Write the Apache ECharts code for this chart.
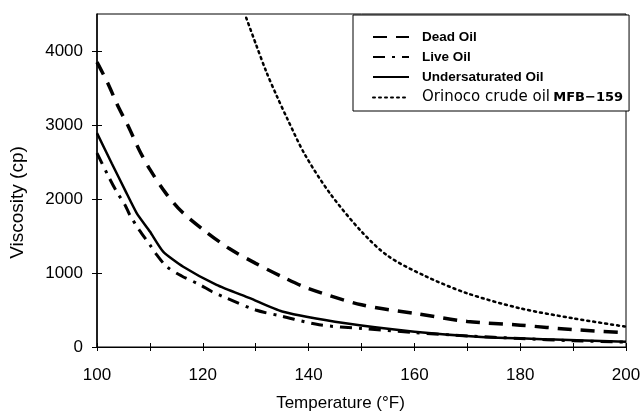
<!DOCTYPE html>
<html>
<head>
<meta charset="utf-8">
<script src="https://cdn.jsdelivr.net/npm/echarts@6/dist/echarts.min.js"></script>
<style>
  html, body { margin: 0; padding: 0; background: #fff; }
  #chart { width: 641px; height: 414px; }
</style>
</head>
<body>
<div id="chart"></div>
<script>
// values
const seriesNames = ['Dead Oil', 'Live Oil', 'Undersaturated Oil', 'Orinoco crude oil MFB-159'];

const deadTemp = [100, 102, 104, 106, 108, 110, 113, 116, 120, 125, 130, 135, 140, 150, 160, 170, 180, 190, 200];
const deadVisc = [3850, 3570, 3250, 2970, 2660, 2400, 2080, 1830, 1590, 1330, 1130, 950, 790, 570, 455, 345, 295, 235, 195];

const liveTemp = [100, 102, 103.7, 105.3, 106.2, 108, 110, 111.3, 113.2, 116, 119.5, 121.7, 124.5, 130, 135, 142, 150, 160, 170, 180, 190, 200];
const liveVisc = [2620, 2330, 2100, 1920, 1785, 1580, 1380, 1245, 1085, 960, 840, 750, 660, 500, 415, 300, 250, 195, 150, 115, 85, 65];

const underTemp = [100, 102.8, 105.3, 107.5, 110, 112.5, 116.3, 122.6, 128.9, 135, 147, 160, 172, 185, 200];
const underVisc = [2890, 2480, 2120, 1810, 1560, 1290, 1085, 840, 660, 480, 320, 207, 140, 105, 70];

const orinocoTemp = [128.2, 130, 132, 134, 136, 139.3, 144, 150, 155, 162, 170, 180, 190, 200];
const orinocoVisc = [4450, 4100, 3720, 3390, 3080, 2600, 2080, 1560, 1230, 960, 725, 523, 388, 274];

const yTicks = [0, 1000, 2000, 3000, 4000];

function pairs(xs, ys) {
  return xs.map((x, i) => [x, ys[i]]);
}

const chart = echarts.init(document.getElementById('chart'));

const FONT = '"Liberation Sans", Arial, sans-serif';

chart.setOption({
  backgroundColor: '#fff',
  animation: false,
  grid: {
    left: 97, right: 15, top: 14, bottom: 67,
    outerBoundsMode: 'none',
    show: true, borderColor: '#000', borderWidth: 1
  },
  legend: {
    orient: 'vertical',
    left: 353, top: 15,
    padding: [15, 6, 6, 19],
    itemGap: 6,
    itemWidth: 36,
    itemHeight: 14,
    borderColor: '#000',
    borderWidth: 1,
    backgroundColor: '#fff',
    itemStyle: { opacity: 0 },
    data: seriesNames,
    formatter: function (name) {
      if (name === seriesNames[3]) {
        return '{n|Orinoco crude oil} {nb|MFB\u2212159}';
      }
      return '{b|' + name + '}';
    },
    textStyle: {
      color: '#000',
      rich: {
        b: { fontFamily: FONT, fontWeight: 'bold', fontSize: 13.5, lineHeight: 14, color: '#000', padding: [0, 0, 0, 8] },
        n: { fontFamily: '"DejaVu Sans", sans-serif', fontSize: 15, lineHeight: 14, color: '#000', padding: [0, 0, 0, 8] },
        nb: { fontFamily: '"DejaVu Sans", sans-serif', fontWeight: 'bold', fontSize: 13, lineHeight: 14, color: '#000' }
      }
    }
  },
  xAxis: [{
    type: 'value',
    min: 100, max: 200, interval: 10,
    name: 'Temperature (\u00B0F)',
    nameLocation: 'middle',
    nameGap: 48,
    nameTextStyle: { fontFamily: FONT, fontSize: 17, color: '#000', padding: [0, 42, 0, 0] },
    axisLine: { lineStyle: { color: '#000', width: 1 } },
    axisTick: { show: true, inside: false, length: 4, lineStyle: { color: '#000' } },
    axisLabel: {
      margin: 20,
      fontFamily: FONT, fontSize: 17, color: '#000',
      formatter: v => (v % 20 === 0 ? String(v) : '')
    },
    splitLine: { show: false }
  }, {
    type: 'value',
    position: 'bottom',
    min: 100, max: 200, interval: 10,
    axisLine: { show: false },
    axisTick: { show: true, inside: true, length: 4, lineStyle: { color: '#000' } },
    axisLabel: { show: false },
    splitLine: { show: false }
  }],
  yAxis: [{
    type: 'value',
    min: 0, max: 4500,
    name: 'Viscosity (cp)',
    nameLocation: 'middle',
    nameGap: 70,
    nameTextStyle: { fontFamily: FONT, fontSize: 19, color: '#000', padding: [0, 44, 0, 0] },
    axisLine: { show: true, lineStyle: { color: '#000', width: 1.5 } },
    axisTick: { show: true, inside: false, length: 5, customValues: yTicks, lineStyle: { color: '#000' } },
    axisLabel: {
      margin: 14,
      fontFamily: FONT, fontSize: 17, color: '#000',
      customValues: yTicks,
      formatter: v => String(v)
    },
    splitLine: { show: false }
  }, {
    type: 'value',
    position: 'left',
    min: 0, max: 4500,
    axisLine: { show: false },
    axisTick: { show: true, inside: true, length: 5, customValues: yTicks, lineStyle: { color: '#000' } },
    axisLabel: { show: false },
    splitLine: { show: false }
  }],
  series: [{
    name: seriesNames[0],
    type: 'line',
    symbol: 'none',
    smooth: 0.3,
    data: pairs(deadTemp, deadVisc),
    lineStyle: { color: '#000', width: 3.5, type: [14, 9] },
    itemStyle: { color: '#000' }
  }, {
    name: seriesNames[1],
    type: 'line',
    symbol: 'none',
    smooth: 0.3,
    data: pairs(liveTemp, liveVisc),
    lineStyle: { color: '#000', width: 3, type: [12, 7, 3, 7] },
    itemStyle: { color: '#000' }
  }, {
    name: seriesNames[2],
    type: 'line',
    symbol: 'none',
    smooth: 0.2,
    data: pairs(underTemp, underVisc),
    lineStyle: { color: '#000', width: 2.5 },
    itemStyle: { color: '#000' }
  }, {
    name: seriesNames[3],
    type: 'line',
    symbol: 'none',
    smooth: 0.3,
    data: pairs(orinocoTemp, orinocoVisc),
    lineStyle: { color: '#000', width: 2.5, type: [2, 4], cap: 'round' },
    itemStyle: { color: '#000' }
  }]
});
</script>
</body>
</html>
